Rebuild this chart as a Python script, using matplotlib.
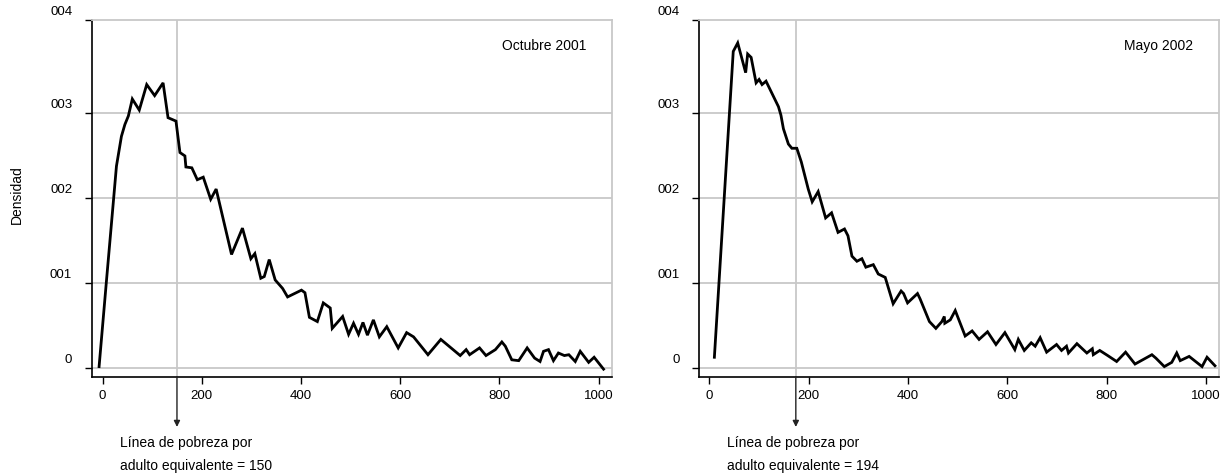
import numpy as np
import matplotlib
matplotlib.use("Agg")
from matplotlib import pyplot as plt
from matplotlib.transforms import ScaledTranslation

plt.rcParams['font.family'] = ['Liberation Sans', 'DejaVu Sans']
plt.rcParams['font.size'] = 9.5

# densities, in units of 0.001
x_oct = [-7, 8, 21, 28, 38, 45, 52, 60, 74, 89, 105, 122, 132, 148, 156, 166, 168, 180,
         191, 203, 218, 229, 260, 282, 299, 307, 319, 326, 336, 348, 363, 373, 401, 408,
         417, 433, 445, 459, 463, 484, 496, 506, 516, 525, 534, 546, 558, 573, 596, 613,
         627, 656, 682, 721, 733, 740, 760, 773, 792, 805, 812, 825, 839, 856, 871, 882,
         889, 899, 909, 919, 931, 940, 953, 963, 980, 991, 1010]
d_oct = [0.02, 1.04, 1.91, 2.38, 2.73, 2.87, 2.97, 3.17, 3.04, 3.34, 3.21, 3.36, 2.95, 2.91,
         2.54, 2.50, 2.37, 2.36, 2.22, 2.25, 1.99, 2.11, 1.34, 1.65, 1.29, 1.35, 1.06, 1.08,
         1.28, 1.04, 0.94, 0.84, 0.92, 0.89, 0.60, 0.55, 0.77, 0.71, 0.47, 0.61, 0.40, 0.53,
         0.40, 0.54, 0.39, 0.57, 0.37, 0.49, 0.24, 0.42, 0.37, 0.16, 0.34, 0.15, 0.22, 0.16,
         0.24, 0.15, 0.22, 0.31, 0.26, 0.10, 0.09, 0.24, 0.12, 0.08, 0.20, 0.22, 0.09, 0.18,
         0.15, 0.16, 0.08, 0.20, 0.07, 0.13, -0.01]

x_may = [10, 48, 57, 73, 77, 84, 94, 100, 106, 114, 129, 139, 144, 149, 159, 166, 176, 185,
         199, 207, 219, 234, 246, 259, 272, 279, 287, 297, 307, 315, 330, 340, 354, 370,
         386, 391, 399, 419, 424, 443, 456, 468, 473, 474, 485, 495, 515, 529, 543, 560,
         577, 595, 615, 622, 634, 648, 656, 666, 679, 699, 709, 719, 723, 740, 760, 771,
         773, 786, 802, 820, 838, 857, 891, 899, 916, 931, 941, 948, 966, 992, 1002, 1018]
d_may = [0.13, 3.73, 3.83, 3.48, 3.70, 3.66, 3.36, 3.40, 3.34, 3.38, 3.20, 3.08, 2.98, 2.82,
         2.64, 2.59, 2.59, 2.43, 2.11, 1.96, 2.08, 1.77, 1.83, 1.60, 1.64, 1.56, 1.32, 1.26,
         1.29, 1.19, 1.22, 1.11, 1.07, 0.76, 0.91, 0.88, 0.77, 0.88, 0.82, 0.55, 0.47, 0.55,
         0.61, 0.53, 0.57, 0.68, 0.38, 0.44, 0.34, 0.43, 0.28, 0.42, 0.22, 0.34, 0.21, 0.30,
         0.26, 0.36, 0.19, 0.28, 0.21, 0.26, 0.18, 0.29, 0.18, 0.23, 0.16, 0.21, 0.15, 0.08,
         0.19, 0.05, 0.16, 0.12, 0.02, 0.07, 0.18, 0.09, 0.14, 0.02, 0.13, 0.03]

panel_titles = ["Octubre 2001", "Mayo 2002"]
pov_labels = ["150", "194"]
pov_x = [150, 174]          # where the line is drawn in the picture
ytick_vals = [0, 0.001, 0.002, 0.003, 0.0041]
ytick_labels = ["0", "001", "002", "003", "004"]
xtick_vals = [0, 200, 400, 600, 800, 1000]

grid_c = "#c8c8c8"

fig = plt.figure(figsize=(12.22, 4.74), dpi=100)
rects = [[0.0750, 0.2040, 0.4258, 0.7538], [0.5720, 0.2040, 0.4255, 0.7538]]
xlims = [(-22, 1027), (-21, 1026)]
series = [(x_oct, d_oct), (x_may, d_may)]

for i in range(2):
    ax = fig.add_axes(rects[i])
    xs, ds = series[i]
    ax.plot(xs, np.array(ds) / 1000, color="black", lw=2.0, solid_joinstyle="miter", zorder=3)
    ax.set_xlim(*xlims[i])
    ax.set_ylim(-0.000106, 0.0041)

    ax.set_yticks(ytick_vals)
    ax.set_yticklabels(ytick_labels)
    ax.set_xticks(xtick_vals)
    ax.tick_params(axis="y", length=5, width=1, pad=9)
    ax.tick_params(axis="x", length=5, width=1, pad=4)
    off = ScaledTranslation(0, 10 / 100, fig.dpi_scale_trans)
    for lab in ax.get_yticklabels():
        lab.set_transform(lab.get_transform() + off)

    for v in ytick_vals[:4]:
        ax.axhline(v, color=grid_c, lw=1.3, zorder=1)
    ax.axvline(pov_x[i], color=grid_c, lw=1.3, zorder=1)
    for s in ["top", "right"]:
        ax.spines[s].set_color(grid_c)
        ax.spines[s].set_linewidth(1.3)
    for s in ["left", "bottom"]:
        ax.spines[s].set_linewidth(1.2)

    ax.text(0.95, 0.927, panel_titles[i], transform=ax.transAxes, ha="right",
            va="center", fontsize=10)

    ax.annotate("", xy=(pov_x[i], -0.139), xytext=(pov_x[i], 0),
                xycoords=("data", "axes fraction"), textcoords=("data", "axes fraction"),
                arrowprops=dict(arrowstyle="-|>", color="#222222", lw=1,
                                mutation_scale=9, shrinkA=0, shrinkB=0),
                annotation_clip=False)
    ax.text(0.0536, -0.184, u"L\u00ednea de pobreza por", transform=ax.transAxes,
            ha="left", va="center", fontsize=10)
    ax.text(0.0536, -0.247, "adulto equivalente = " + pov_labels[i], transform=ax.transAxes,
            ha="left", va="center", fontsize=10)

fig.text(0.0135, 0.59, "Densidad", rotation=90, ha="center", va="center", fontsize=10)

fig.savefig("out.png", dpi=100)
